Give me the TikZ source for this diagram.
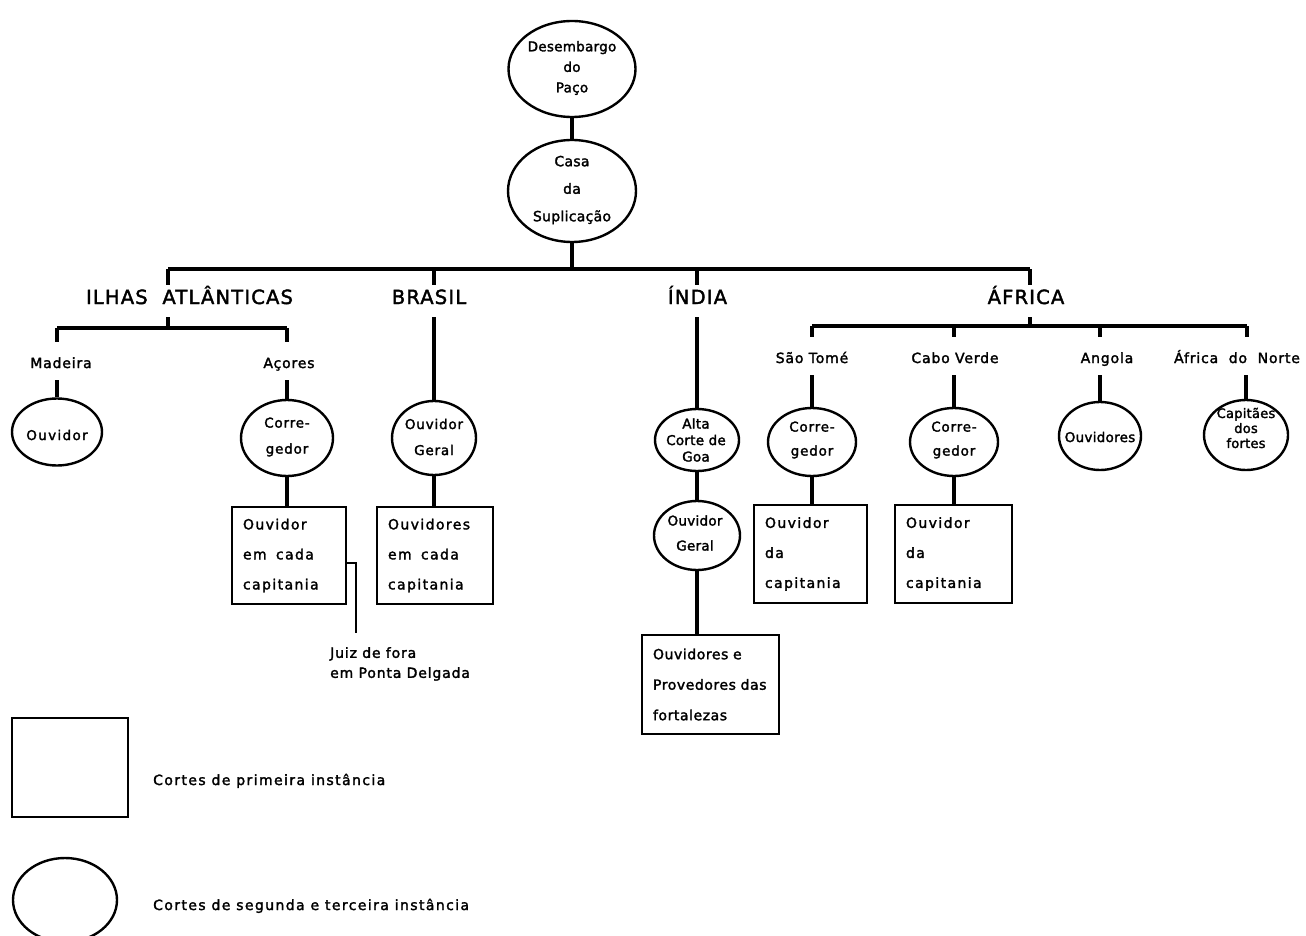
\documentclass[tikz,border=0pt]{standalone}
\usepackage{fontspec}
\setmainfont{DejaVu Sans}[FakeBold=2]
\newfontfamily\lsA{DejaVu Sans}[LetterSpace=6,FakeBold=2]
\newfontfamily\lsB{DejaVu Sans}[LetterSpace=10,FakeBold=2]
\newfontfamily\lsC{DejaVu Sans}[LetterSpace=2,FakeBold=2]
\newfontfamily\lsD{DejaVu Sans}[LetterSpace=4,FakeBold=2]
\usetikzlibrary{shapes.geometric}
\begin{document}
\begin{tikzpicture}[x=1pt,y=-1pt,
  ln/.style={line width=3.2pt},
  oval/.style={ellipse, draw, line width=2.4pt, inner sep=0pt},
  etext/.style={align=center, inner sep=0pt, font=\lsA\fontsize{13.5}{24}\selectfont},
  court/.style={rectangle, draw, line width=2.4pt, inner xsep=11pt, inner ysep=0pt, align=left, font=\lsB\fontsize{14}{30}\selectfont},
  head/.style={font=\lsA\fontsize{19.5}{22}\selectfont, text height=14pt, text depth=8pt, inner ysep=5pt, inner xsep=2pt},
  lab/.style={font=\lsA\fontsize{14}{16}\selectfont, text height=14pt, text depth=0pt, inner ysep=12pt, inner xsep=2pt},
  note/.style={align=left, inner sep=0pt, font=\lsA\fontsize{14}{20}\selectfont},
  legtext/.style={anchor=base west, inner sep=0pt, font=\lsB\fontsize{14}{16}\selectfont}
]
\useasboundingbox (0,0) rectangle (1306,936);

% top
\node[oval, minimum width=127pt, minimum height=96pt] (desem) at (572,69) {};
\node[etext, font=\lsC\fontsize{13.5}{20.5}\selectfont] (desemt) at (572,68) {Desembargo\\do\\Paço};
\node[oval, minimum width=128pt, minimum height=102pt] (casa) at (572,191) {};
\node[etext, font=\lsC\fontsize{14}{27.5}\selectfont] (casat) at (572,190) {Casa\\da\\Suplicação};

% headings
\node[head] (ilhas) at (189.5,301) {ILHAS\ \ ATLÂNTICAS};
\node[head] (brasil) at (429,301) {BRASIL};
\node[head] (india) at (697.5,301) {ÍNDIA};
\node[head] (africa) at (1026,301) {ÁFRICA};

% main bus
\coordinate (mL) at (168,269);
\coordinate (mB) at (434,269);
\coordinate (mI) at (697,269);
\coordinate (mR) at (1030,269);
\draw[ln] (casa.south) -- (casa.south |- mL);
\draw[ln] (mL) -- (mR);
\draw[ln] (mL) -- (mL |- ilhas.north);
\draw[ln] (mB) -- (mB |- brasil.north);
\draw[ln] (mI) -- (mI |- india.north);
\draw[ln] (mR) -- (mR |- africa.north);
\draw[ln] (desem.south) -- (casa.north);

% Ilhas atlanticas
\coordinate (iL) at (57,328);
\coordinate (iM) at (168,328);
\coordinate (iR) at (287,328);
\draw[ln] (iL) -- (iR);
\draw[ln] (iM) -- (iM |- ilhas.south);
\node[lab] (madeira) at (61,361) {Madeira};
\node[lab] (acores) at (289,361) {Açores};
\draw[ln] (iL) -- (iL |- madeira.north);
\draw[ln] (iR) -- (iR |- acores.north);

\node[oval, minimum width=90pt, minimum height=67pt] (ouvM) at (57,432) {};
\node[etext, font=\lsB\fontsize{13.5}{24}\selectfont] (ouvMt) at (57,435) {Ouvidor};
\draw[ln] (ouvM.north) -- (ouvM.north |- madeira.south);

\node[oval, minimum width=92pt, minimum height=76pt] (corA) at (287,438) {};
\node[etext, font=\lsA\fontsize{13.5}{26}\selectfont] (corAt) at (287,437) {Corre-\\gedor};
\draw[ln] (corA.north) -- (corA.north |- acores.south);

\node[court, text width=92pt, minimum height=97pt] (boxA) at (289,555.5) {Ouvidor\\em\ \ cada\\capitania};
\draw[ln] (corA.south) -- (corA.south |- boxA.north);

\coordinate (jz) at (356,633);
\draw[line width=2.4pt] ([yshift=-7.5pt]boxA.east) -| (jz);
\node[note, anchor=north west] (juiz) at (330,647) {Juiz de fora\\em Ponta Delgada};

% Brasil
\node[oval, minimum width=84pt, minimum height=74pt] (ouvB) at (434,438) {};
\node[etext, font=\lsA\fontsize{13.5}{26}\selectfont] (ouvBt) at (434,437) {Ouvidor\\Geral};
\draw[ln] (ouvB.north) -- (ouvB.north |- brasil.south);
\node[court, text width=94pt, minimum height=97pt] (boxB) at (435,555.5) {Ouvidores\\em\ \ cada\\capitania};
\draw[ln] (ouvB.south) -- (ouvB.south |- boxB.north);

% India
\node[oval, minimum width=84pt, minimum height=62pt] (alta) at (697,440) {};
\node[etext, font=\lsC\fontsize{13.5}{16.5}\selectfont] (altat) at (696,440) {Alta\\Corte de\\Goa};
\draw[ln] (alta.north) -- (alta.north |- india.south);
\node[oval, minimum width=86pt, minimum height=69pt] (ouvI) at (697,535.5) {};
\node[etext, font=\lsC\fontsize{13.5}{25}\selectfont] (ouvIt) at (695,533) {Ouvidor\\Geral};
\draw[ln] (alta.south) -- (ouvI.north);
\node[court, text width=115pt, minimum height=99pt, font=\lsD\fontsize{14}{30.5}\selectfont] (boxI) at (710.5,684.5) {Ouvidores e\\Provedores das\\fortalezas};
\draw[ln] (ouvI.south) -- (ouvI.south |- boxI.north);

% Africa
\coordinate (aB) at (1030,326);
\coordinate (aS) at (812,326);
\coordinate (aC) at (954,326);
\coordinate (aA) at (1100,326);
\coordinate (aN) at (1247,326);
\draw[ln] (aB) -- (aB |- africa.south);
\draw[ln] (aS) -- (aN);
\node[lab] (saot) at (812,356) {São Tomé};
\node[lab] (cabo) at (955,356) {Cabo Verde};
\node[lab] (angola) at (1107,356) {Angola};
\node[lab] (norte) at (1237,356) {África\ \ do\ \ Norte};
\draw[ln] (aS) -- (aS |- saot.north);
\draw[ln] (aC) -- (aC |- cabo.north);
\draw[ln] (aA) -- (aA |- angola.north);
\draw[ln] (aN) -- (aN |- norte.north);

\node[oval, minimum width=88pt, minimum height=68pt] (corS) at (812,442) {};
\node[etext, font=\lsA\fontsize{13.5}{24}\selectfont] (corSt) at (812,440) {Corre-\\gedor};
\draw[ln] (corS.north) -- (corS.north |- saot.south);
\node[oval, minimum width=88pt, minimum height=68pt] (corC) at (954,442) {};
\node[etext, font=\lsA\fontsize{13.5}{24}\selectfont] (corCt) at (954,440) {Corre-\\gedor};
\draw[ln] (corC.north) -- (corC.north |- cabo.south);
\node[oval, minimum width=82pt, minimum height=68pt] (ouvA) at (1100,436) {};
\node[etext, font=\lsC\fontsize{13.5}{16}\selectfont] (ouvAt) at (1100,437) {Ouvidores};
\draw[ln] (ouvA.north) -- (ouvA.north |- angola.south);
\node[oval, minimum width=84pt, minimum height=70pt] (cap) at (1246,435) {};
\node[etext, font=\lsC\fontsize{13}{15}\selectfont] (capt) at (1246,428) {Capitães\\dos\\fortes};
\draw[ln] (cap.north) -- (cap.north |- norte.south);

\node[court, text width=91pt, minimum height=98pt] (boxS) at (810.5,554) {Ouvidor\\da\\capitania};
\draw[ln] (corS.south) -- (corS.south |- boxS.north);
\node[court, text width=95pt, minimum height=98pt] (boxC) at (953.5,554) {Ouvidor\\da\\capitania};
\draw[ln] (corC.south) -- (corC.south |- boxC.north);

% legend
\node[rectangle, draw, line width=2.4pt, minimum width=116pt, minimum height=99pt] (legbox) at (70,767.5) {};
\node[legtext] (leg1) at (153,785) {Cortes de primeira instância};
\node[oval, minimum width=104pt, minimum height=84pt] (legell) at (65,900) {};
\node[legtext] (leg2) at (153,910) {Cortes de segunda e terceira instância};
\end{tikzpicture}
\end{document}
